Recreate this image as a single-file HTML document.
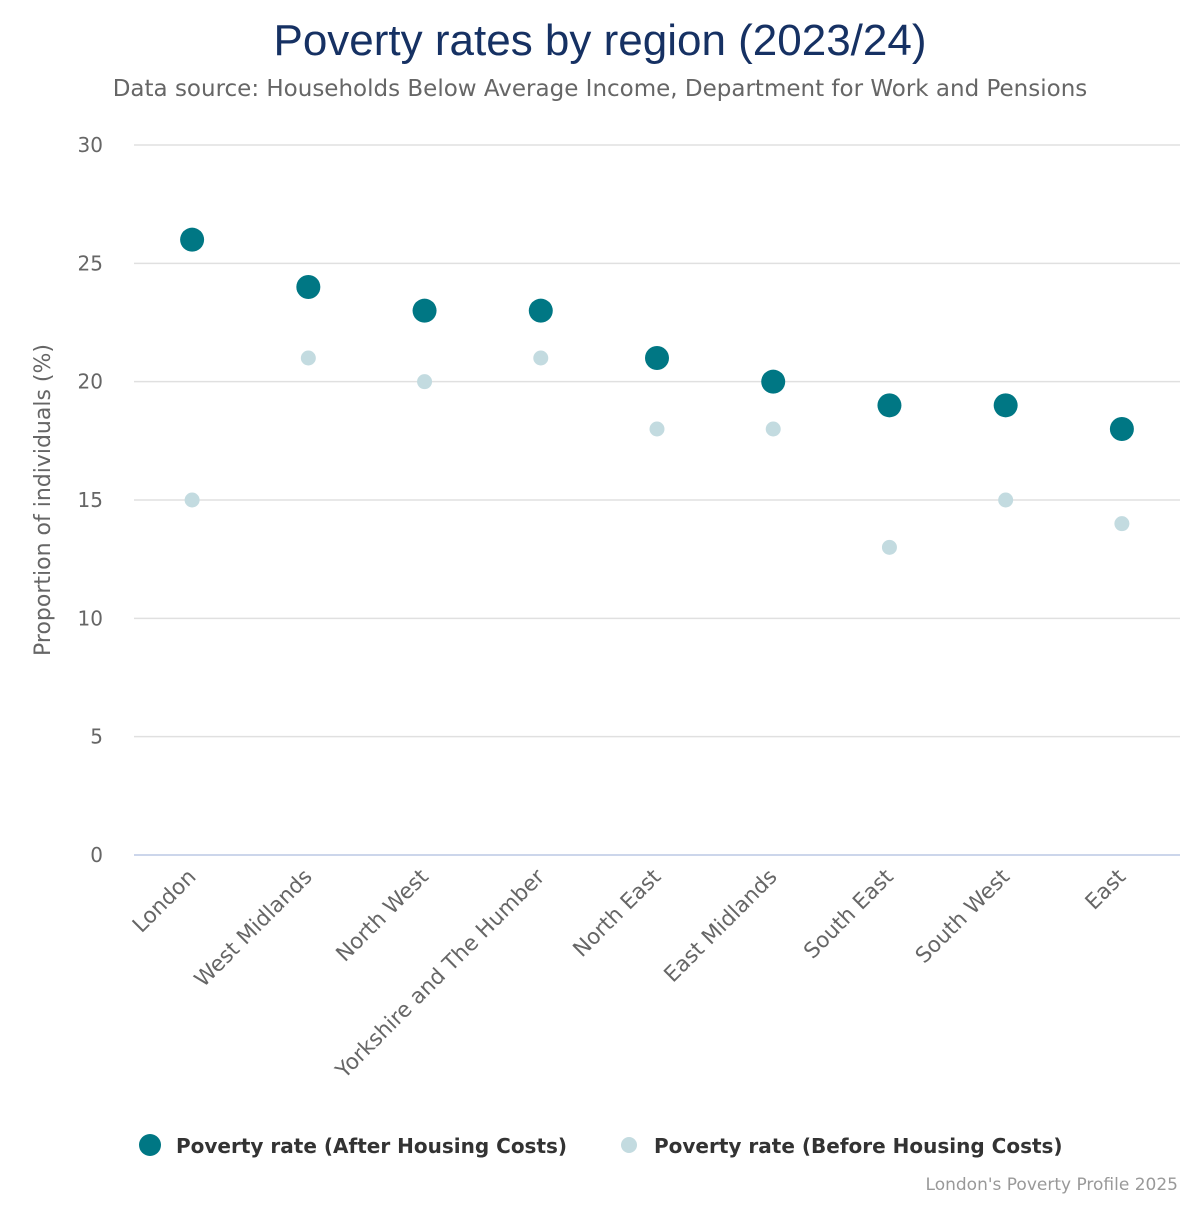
<!DOCTYPE html>
<html><head><meta charset="utf-8"><style>
body{margin:0;background:#fff;}
svg text{font-family:"DejaVu Sans","Liberation Sans",sans-serif;}
</style></head><body>
<svg id="chart" width="1200" height="1200" xmlns="http://www.w3.org/2000/svg">
<rect width="1200" height="1200" fill="#fff"/>
<text x="600" y="55" text-anchor="middle" font-size="44" fill="#163163" style="font-family:'Liberation Sans',sans-serif">Poverty rates by region (2023/24)</text>
<text x="600" y="96" text-anchor="middle" font-size="23" fill="#666">Data source: Households Below Average Income, Department for Work and Pensions</text>
<g id="grid"></g><g id="xlabels"></g><g id="marks"></g>
<text transform="translate(50,500) rotate(-90)" text-anchor="middle" font-size="22" fill="#666">Proportion of individuals (%)</text>
<circle cx="150" cy="1145" r="11" fill="#007784"/>
<text x="176" y="1153" font-size="20" font-weight="bold" fill="#333">Poverty rate (After Housing Costs)</text>
<circle cx="629" cy="1145" r="8" fill="#c3dbe0"/>
<text x="654" y="1153" font-size="20" font-weight="bold" fill="#333">Poverty rate (Before Housing Costs)</text>
<text x="1178" y="1190" text-anchor="end" font-size="17" fill="#999">London's Poverty Profile 2025</text>
</svg>
<script>
const categories=["London","West Midlands","North West","Yorkshire and The Humber","North East","East Midlands","South East","South West","East"];
const ahcValues=[26,24,23,23,21,20,19,19,18];
const bhcValues=[15,21,20,21,18,18,13,15,14];
const yTicks=[0,5,10,15,20,25,30];
const NS="http://www.w3.org/2000/svg";
const L=134,R=1180,T=145,B=855,yMax=30;
const bw=(R-L)/categories.length;
const xS=i=>L+bw*(i+0.5);
const yS=v=>B-(B-T)*v/yMax;
function mk(t,a,p){const e=document.createElementNS(NS,t);for(const k in a)e.setAttribute(k,a[k]);p.appendChild(e);return e;}
const grid=document.getElementById('grid'),xl=document.getElementById('xlabels'),marks=document.getElementById('marks');
yTicks.forEach(v=>{
 const ln=mk('line',{x1:L,x2:R,y1:yS(v),y2:yS(v),stroke:v===0?'#ccd6eb':'#e0e0e0','stroke-width':v===0?2:1.5},grid);
 
 
 const t=mk('text',{x:103,y:yS(v)+7,'text-anchor':'end','font-size':20,fill:'#666'},grid);
 t.textContent=v;
 
 
});
categories.forEach((c,i)=>{
 const x=xS(i)+5,y=878;
 const t=mk('text',{x:x,y:y,'text-anchor':'end','font-size':21.5,fill:'#666',transform:`rotate(-45 ${x} ${y})`},xl);
 t.textContent=c;
 
 
 const b=mk('circle',{cx:xS(i),cy:yS(bhcValues[i]),r:7.5,fill:'#c3dbe0'},marks);
 
 
 const a=mk('circle',{cx:xS(i),cy:yS(ahcValues[i]),r:12,fill:'#007784'},marks);
 
 
});
</script>
</body></html>
